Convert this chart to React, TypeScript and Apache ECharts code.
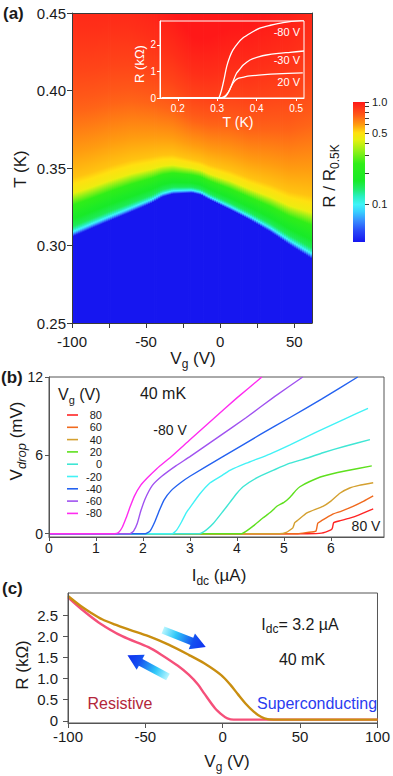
import React, { useEffect, useRef } from "react";
import * as echarts from "echarts";

const FONT = "'Liberation Sans', Arial, Helvetica, sans-serif";
const INK = "#1a1a1a";
const AXC = "#3a3a3a";

// ===== (a) phase diagram =====
const T_MIN = 0.25;
const T_MAX = 0.45;
const VG_MIN_A = -100;
const VG_MAX_A = 62;
const HM_VG = [-100, -86, -73, -60, -46, -39, -32, -19, -13, -7, 7, 20, 34, 47, 62];
// blue edge (lower end of the transition)
const HM_TC = [0.3055, 0.3113, 0.3165, 0.3216, 0.3274, 0.3313, 0.3332, 0.3339, 0.3326, 0.3294, 0.3229, 0.3165, 0.3087, 0.3003, 0.2913];
// yellow band (R/R0.5K ~ 0.45)
const HM_TY = [0.3326, 0.3371, 0.3416, 0.3455, 0.3487, 0.3506, 0.3513, 0.3494, 0.3481, 0.3455, 0.341, 0.3358, 0.3306, 0.3248, 0.3203];
// transition profile: position between blue edge (0) and yellow band (1) -> R/R0.5K
const PROFILE_U = [0, 0.04, 0.1, 0.16, 0.25, 0.5, 0.75, 0.9, 1.05, 1.4, 2.0, 3.0, 4.0, 5.0, 6.5];
const PROFILE_R = [0.043, 0.06, 0.09, 0.12, 0.15, 0.18, 0.25, 0.33, 0.45, 0.54, 0.6, 0.72, 0.82, 0.9, 1.0];
// colour scale
const CB_R = [0.043, 0.055, 0.07, 0.085, 0.1, 0.12, 0.14, 0.17, 0.25, 0.33, 0.43, 0.5, 0.6, 0.75, 1.0];
const CB_COLOR = ["#1616f0", "#2848f8", "#3890ff", "#38d0ff", "#40f4f8", "#28f0c0", "#20ec70", "#18ea28", "#30ee18", "#90f018", "#e8f010", "#ffe010", "#ff9c10", "#ff5818", "#ff1818"];
const CB_TICKS = [0.1, 0.2, 0.3, 0.4, 0.5, 0.6, 0.7, 0.8, 0.9, 1.0];
const CB_LABELS = [0.1, 0.5, 1.0];
const T_TICKS = [0.25, 0.3, 0.35, 0.4, 0.45];
const VG_TICKS_A = [-100, -75, -50, -25, 0, 25, 50];
const VG_LABELS_A = [-100, -50, 0, 50];

// inset R(T) curves
const RT_M80: [number, number][] = [[0.16, 0], [0.3, 0], [0.305, 0.03], [0.311, 0.3], [0.317, 0.68], [0.324, 1.18], [0.332, 1.55], [0.34, 1.81], [0.352, 2.06], [0.365, 2.26], [0.385, 2.45], [0.408, 2.63], [0.435, 2.74], [0.467, 2.84], [0.52, 2.93]];
const RT_M30: [number, number][] = [[0.16, 0], [0.307, 0], [0.318, 0.05], [0.325, 0.15], [0.332, 0.32], [0.34, 0.62], [0.349, 0.93], [0.358, 1.1], [0.366, 1.24], [0.383, 1.43], [0.405, 1.55], [0.425, 1.62], [0.455, 1.68], [0.485, 1.72], [0.52, 1.77]];
const RT_P20: [number, number][] = [[0.16, 0], [0.31, 0], [0.32, 0.04], [0.327, 0.18], [0.333, 0.36], [0.34, 0.56], [0.346, 0.67], [0.353, 0.74], [0.368, 0.79], [0.383, 0.83], [0.42, 0.88], [0.451, 0.91], [0.517, 0.95]];
const INSET_T_TICKS = [0.2, 0.3, 0.4, 0.5];
const INSET_R_TICKS = [0, 1, 2];

// ===== (b) V_drop vs I_dc =====
const IV_P80: [number, number][] = [[0, 0], [5.5, 0], [5.8, 0.05], [6.0, 0.3], [6.03, 0.42], [6.06, 0.85], [6.2, 1.0], [6.4, 1.2], [6.6, 1.45], [6.9, 1.9]];
const IV_P60: [number, number][] = [[0, 0], [5.3, 0], [5.5, 0.1], [5.68, 0.2], [5.72, 0.8], [5.8, 1.0], [6.04, 1.5], [6.2, 1.7], [6.47, 2.1], [6.7, 2.5], [6.9, 2.9]];
const IV_P40: [number, number][] = [[0, 0], [4.9, 0], [5.05, 0.1], [5.19, 0.45], [5.23, 0.85], [5.3, 1.05], [5.49, 1.6], [5.83, 2.1], [6.0, 2.5], [6.19, 3.1], [6.4, 3.5], [6.6, 3.7], [6.9, 3.9]];
const IV_P20: [number, number][] = [[0, 0], [4.1, 0], [4.2, 0.2], [4.35, 0.6], [4.55, 1.2], [4.7, 1.6], [4.85, 2.1], [5.0, 2.4], [5.13, 2.8], [5.25, 3.3], [5.34, 3.6], [5.55, 4.0], [5.83, 4.4], [6.3, 4.8], [6.87, 5.2]];
const IV_0: [number, number][] = [[0, 0], [3.2, 0], [3.35, 0.3], [3.5, 0.8], [3.7, 1.7], [3.85, 2.4], [4.0, 3.1], [4.13, 3.6], [4.43, 4.3], [4.8, 4.9], [5.13, 5.4], [5.5, 5.8], [5.83, 6.2], [6.3, 6.7], [6.83, 7.2]];
const IV_M20: [number, number][] = [[0, 0], [2.62, 0], [2.72, 0.3], [2.82, 0.9], [2.92, 1.6], [3.0, 2.0], [3.2, 3.0], [3.43, 3.9], [3.7, 4.5], [3.85, 4.85], [4.2, 5.4], [4.7, 6.1], [5.13, 6.8], [5.7, 7.8], [6.3, 8.8], [6.79, 9.6]];
const IV_M40: [number, number][] = [[0, 0], [2.05, 0], [2.15, 0.2], [2.25, 0.9], [2.35, 1.8], [2.45, 2.6], [2.6, 3.3], [2.8, 3.9], [3.0, 4.4], [3.7, 5.9], [4.5, 7.6], [5.13, 8.9], [5.8, 10.3], [6.57, 12.0]];
const IV_M60: [number, number][] = [[0, 0], [1.72, 0], [1.8, 0.2], [1.88, 0.8], [1.95, 1.7], [2.05, 2.7], [2.2, 3.7], [2.4, 4.4], [2.7, 5.2], [3.0, 5.9], [3.6, 7.4], [4.2, 8.9], [4.8, 10.5], [5.4, 12.0]];
const IV_M80: [number, number][] = [[0, 0], [1.4, 0], [1.48, 0.1], [1.56, 0.5], [1.64, 1.2], [1.72, 2.0], [1.82, 2.9], [1.95, 3.7], [2.1, 4.3], [2.3, 5.0], [2.6, 5.9], [3.0, 7.2], [3.5, 8.8], [4.0, 10.4], [4.53, 12.0]];
const B_LABELS = ["80", "60", "40", "20", "0", "-20", "-40", "-60", "-80"];
const B_COLORS = ["#ff2424", "#f06a1e", "#d4a030", "#5ee01e", "#3fe6d4", "#42f2f6", "#2462f0", "#a052f0", "#ff2cf0"];
const B_DATA = [IV_P80, IV_P60, IV_P40, IV_P20, IV_0, IV_M20, IV_M40, IV_M60, IV_M80];
const B_Y_TICKS = [0, 6, 12];
const B_X_TICKS = [0, 1, 2, 3, 4, 5, 6];

// ===== (c) R vs Vg sweeps =====
const RV_GOLD: [number, number][] = [[-100, 2.95], [-92, 2.72], [-85, 2.55], [-78, 2.4], [-70, 2.28], [-60, 2.15], [-48, 2.0], [-35, 1.8], [-22, 1.56], [-12, 1.36], [-1, 1.08], [5, 0.85], [10, 0.62], [15, 0.4], [20, 0.22], [25, 0.09], [29, 0.04], [35, 0.03], [100, 0.03]];
const RV_PINK: [number, number][] = [[-100, 2.92], [-90, 2.6], [-80, 2.32], [-65, 2.0], [-48, 1.74], [-40, 1.57], [-29, 1.3], [-22, 1.09], [-16, 0.86], [-12, 0.65], [-5, 0.3], [0, 0.13], [3, 0.06], [7, 0.03], [100, 0.03]];
const C_Y_TICKS = [0, 0.5, 1.0, 1.5, 2.0, 2.5];
const C_X_TICKS = [-100, -50, 0, 50, 100];

// ---------- helpers ----------
function lerpArr(xs: number[], ys: number[], x: number) {
  const n = xs.length;
  if (x <= xs[0]) return ys[0];
  if (x >= xs[n - 1]) return ys[n - 1];
  for (let i = 0; i < n - 1; i++) {
    if (x <= xs[i + 1]) {
      const t = (x - xs[i]) / (xs[i + 1] - xs[i]);
      return ys[i] + (ys[i + 1] - ys[i]) * t;
    }
  }
  return ys[n - 1];
}
function hex2rgb(h: string) {
  const n = parseInt(h.slice(1), 16);
  return [(n >> 16) & 255, (n >> 8) & 255, n & 255];
}
const CB_LOG = CB_R.map((r) => Math.log10(r));
const CB_MIN = CB_LOG[0];
const CB_MAX = CB_LOG[CB_LOG.length - 1];
function cmap(L: number) {
  if (L <= CB_LOG[0]) return CB_COLOR[0];
  const n = CB_LOG.length;
  if (L >= CB_LOG[n - 1]) return CB_COLOR[n - 1];
  for (let i = 0; i < n - 1; i++) {
    if (L <= CB_LOG[i + 1]) {
      const t = (L - CB_LOG[i]) / (CB_LOG[i + 1] - CB_LOG[i]);
      const a = hex2rgb(CB_COLOR[i]);
      const b = hex2rgb(CB_COLOR[i + 1]);
      return `rgb(${Math.round(a[0] + (b[0] - a[0]) * t)},${Math.round(a[1] + (b[1] - a[1]) * t)},${Math.round(a[2] + (b[2] - a[2]) * t)})`;
    }
  }
  return CB_COLOR[n - 1];
}
const PROFILE_L = PROFILE_R.map((r) => Math.log10(r));
const profileL = (u: number) => lerpArr(PROFILE_U, PROFILE_L, u);
const profileInv = (L: number) => lerpArr(PROFILE_L, PROFILE_U, L);

function columnStops(tc: number, ty: number) {
  const W = ty - tc;
  const span = T_MAX - T_MIN;
  const us = PROFILE_U.slice();
  CB_LOG.forEach((L) => {
    if (L > PROFILE_L[0] && L < PROFILE_L[PROFILE_L.length - 1]) us.push(profileInv(L));
  });
  us.sort((a, b) => a - b);
  const uTop = (T_MAX - tc) / W;
  const stops: { offset: number; color: string }[] = [{ offset: 0, color: cmap(profileL(uTop)) }];
  for (const u of us) {
    if (u >= uTop) continue;
    const T = tc + u * W;
    if (T < T_MIN) continue;
    stops.push({ offset: (T_MAX - T) / span, color: cmap(profileL(u)) });
  }
  stops.push({ offset: 1, color: CB_COLOR[0] });
  stops.sort((a, b) => a.offset - b.offset);
  return stops;
}

function axisBase(gridIndex: number, min: number, max: number, ticks: number[], labels: number[] | null, fmt: any, o: any = {}) {
  return {
    type: "value",
    gridIndex,
    min,
    max,
    z: 6,
    axisLine: { show: true, onZero: false, lineStyle: { color: o.lineColor || AXC, width: 1 } },
    axisTick: { show: ticks.length > 0, customValues: ticks, length: o.tickLen ?? 5, lineStyle: { color: o.lineColor || AXC } },
    axisLabel: {
      show: !!labels,
      customValues: labels || [],
      formatter: fmt,
      color: o.labelColor || INK,
      fontSize: o.fontSize || 14,
      fontFamily: FONT,
      margin: o.margin ?? 6,
    },
    splitLine: { show: false },
  };
}
function hiddenAxis(gridIndex: number, min: number, max: number, position: string, color = AXC) {
  return {
    type: "value",
    gridIndex,
    min,
    max,
    position,
    z: 6,
    axisLine: { show: true, onZero: false, lineStyle: { color, width: 1 } },
    axisTick: { show: false },
    axisLabel: { show: false },
    splitLine: { show: false },
  };
}

function text(x: number, y: number, t: string, o: any = {}) {
  const style: any = {
    text: t,
    fill: o.fill || INK,
    fontSize: o.fontSize || 16,
    fontFamily: FONT,
    fontWeight: o.fontWeight || "normal",
    align: o.align || "center",
    verticalAlign: "middle",
  };
  if (o.rich) style.rich = o.rich;
  if (o.lineHeight) style.lineHeight = o.lineHeight;
  return { type: "text", x, y, rotation: o.rotation || 0, z: 20, style };
}
function subRich(base: number, sub: number, fill = INK, italicSub = false) {
  return {
    n: { fontSize: base, lineHeight: base + 6, fontFamily: FONT, fill, color: fill },
    s: { fontSize: sub, lineHeight: sub + 1, verticalAlign: "bottom", fontFamily: FONT, fill, color: fill, fontStyle: italicSub ? "italic" : "normal" },
  };
}
function arrow(x: number, y: number, rotation: number) {
  const L = 46;
  const pts = [[0, -3.8], [L - 15, -3.8], [L - 15, -8.5], [L, 0], [L - 15, 8.5], [L - 15, 3.8], [0, 3.8]];
  return {
    type: "polygon",
    x,
    y,
    rotation,
    z: 20,
    shape: { points: pts },
    style: {
      fill: new echarts.graphic.LinearGradient(0, 0, 1, 0, [
        { offset: 0, color: "#b8f6ff" },
        { offset: 0.3, color: "#30c8f8" },
        { offset: 0.7, color: "#1450f0" },
        { offset: 1, color: "#1030f0" },
      ]),
    },
  };
}

function buildOption() {
  const grids = [
    { left: 72, top: 13, width: 240, height: 310 },
    { left: 160, top: 21, width: 144, height: 77, show: true, borderColor: "#ffffff", borderWidth: 1, z: 5, backgroundColor: "transparent" },
    { left: 353, top: 102, width: 12, height: 140 },
    { left: 49, top: 377, width: 335, height: 160, show: true, borderColor: "#555", borderWidth: 1, backgroundColor: "transparent" },
    { left: 68, top: 593, width: 315, height: 130, show: true, borderColor: "#555", borderWidth: 1, backgroundColor: "transparent" },
  ];

  const xAxis = [
    axisBase(0, VG_MIN_A, VG_MAX_A, VG_TICKS_A, VG_LABELS_A, (v: number) => String(v), { fontSize: 15, margin: 11 }),
    hiddenAxis(0, VG_MIN_A, VG_MAX_A, "top"),
    axisBase(1, 0.155, 0.52, INSET_T_TICKS, INSET_T_TICKS, (v: number) => v.toFixed(1), { lineColor: "#fff", labelColor: "#fff", fontSize: 10, margin: 5, tickLen: 3 }),
    { type: "value", gridIndex: 2, min: 0, max: 1, show: false },
    axisBase(3, 0, 7.13, B_X_TICKS, B_X_TICKS, (v: number) => String(v), { fontSize: 14, margin: 4, tickLen: 4, lineColor: "#555" }),
    axisBase(4, -100, 100, C_X_TICKS, C_X_TICKS, (v: number) => String(v), { fontSize: 15, margin: 6, tickLen: 5, lineColor: "#555" }),
  ];
  const yAxis = [
    axisBase(0, T_MIN, T_MAX, T_TICKS, T_TICKS, (v: number) => v.toFixed(2), { fontSize: 15, margin: 6 }),
    hiddenAxis(0, T_MIN, T_MAX, "right"),
    axisBase(1, 0, 2.9, INSET_R_TICKS, INSET_R_TICKS, (v: number) => String(v), { lineColor: "#fff", labelColor: "#fff", fontSize: 10, margin: 4, tickLen: 3 }),
    {
      type: "value",
      gridIndex: 2,
      min: CB_MIN,
      max: CB_MAX,
      position: "right",
      z: 6,
      axisLine: { show: false, onZero: false },
      axisTick: { show: true, customValues: CB_TICKS.map((v) => Math.log10(v)), length: 4, lineStyle: { color: AXC } },
      axisLabel: {
        show: true,
        customValues: CB_LABELS.map((v) => Math.log10(v)),
        formatter: (v: number) => Math.pow(10, v).toFixed(1),
        color: INK,
        fontSize: 11,
        fontFamily: FONT,
        margin: 7,
      },
      splitLine: { show: false },
    },
    axisBase(3, -0.25, 12, B_Y_TICKS, B_Y_TICKS, (v: number) => String(v), { fontSize: 14, margin: 6, tickLen: 4, lineColor: "#555" }),
    axisBase(4, -0.05, 3.02, C_Y_TICKS, C_Y_TICKS, (v: number) => (v === 0 ? "0" : v.toFixed(1)), { fontSize: 15, margin: 10, tickLen: 5, lineColor: "#555" }),
  ];

  const heatData = HM_VG.slice(0, -1).map((v, i) => [v, HM_VG[i + 1], i]);

  const series: any[] = [
    {
      type: "custom",
      xAxisIndex: 0,
      yAxisIndex: 0,
      z: 1,
      clip: true,
      silent: true,
      data: heatData,
      renderItem: (params: any, api: any) => {
        const i = api.value(2) as number;
        const v0 = HM_VG[i];
        const v1 = HM_VG[i + 1];
        const pA = api.coord([v0, T_MAX]);
        const pB = api.coord([v1, T_MIN]);
        const wpx = pB[0] - pA[0];
        const n = Math.max(1, Math.round(wpx / 2));
        const children: any[] = [];
        for (let s = 0; s < n; s++) {
          const t = (s + 0.5) / n;
          const tc = HM_TC[i] + (HM_TC[i + 1] - HM_TC[i]) * t;
          const ty = HM_TY[i] + (HM_TY[i + 1] - HM_TY[i]) * t;
          children.push({
            type: "rect",
            shape: { x: pA[0] + (wpx * s) / n, y: pA[1], width: wpx / n + 0.8, height: pB[1] - pA[1] },
            style: { fill: new echarts.graphic.LinearGradient(0, 0, 0, 1, columnStops(tc, ty)) },
          });
        }
        return { type: "group", children };
      },
    },
    {
      type: "custom",
      xAxisIndex: 3,
      yAxisIndex: 3,
      silent: true,
      data: [[0, 0]],
      renderItem: (params: any, api: any) => {
        const p0 = api.coord([0, CB_MAX]);
        const p1 = api.coord([1, CB_MIN]);
        const stops = CB_LOG.map((L, k) => ({ offset: (CB_MAX - L) / (CB_MAX - CB_MIN), color: CB_COLOR[k] })).sort((a, b) => a.offset - b.offset);
        return {
          type: "rect",
          shape: { x: p0[0], y: p0[1], width: p1[0] - p0[0], height: p1[1] - p0[1] },
          style: { fill: new echarts.graphic.LinearGradient(0, 0, 0, 1, stops) },
        };
      },
    },
  ];
  [RT_M80, RT_M30, RT_P20].forEach((d) => {
    series.push({
      type: "line",
      xAxisIndex: 2,
      yAxisIndex: 2,
      data: d,
      showSymbol: false,
      symbol: "none",
      smooth: 0.3,
      z: 4,
      lineStyle: { color: "#ffffff", width: 1.3 },
    });
  });
  B_DATA.forEach((d, k) => {
    series.push({
      type: "line",
      name: B_LABELS[k],
      xAxisIndex: 4,
      yAxisIndex: 4,
      data: d,
      symbol: "none",
      smooth: 0.15,
      clip: true,
      lineStyle: { color: B_COLORS[k], width: 1.4 },
    });
  });
  series.push({
    type: "line",
    xAxisIndex: 5,
    yAxisIndex: 5,
    data: RV_PINK,
    symbol: "none",
    smooth: 0.3,
    lineStyle: { color: "#f5507a", width: 2.4 },
  });
  series.push({
    type: "line",
    xAxisIndex: 5,
    yAxisIndex: 5,
    data: RV_GOLD,
    symbol: "none",
    smooth: 0.3,
    lineStyle: { color: "#c98e10", width: 2.4 },
  });

  const g: any[] = [];
  // panel labels
  g.push(text(3, 13, "(a)", { align: "left", fontWeight: "bold", fontSize: 17 }));
  g.push(text(1, 377, "(b)", { align: "left", fontWeight: "bold", fontSize: 17 }));
  g.push(text(2, 588, "(c)", { align: "left", fontWeight: "bold", fontSize: 17 }));
  // (a) titles
  g.push(text(20, 169, "T (K)", { rotation: Math.PI / 2, fontSize: 17 }));
  g.push(text(193, 358, "{n|V}{s|g}{n| (V)}", { rich: subRich(17, 12) }));
  g.push(text(329, 176, "{n|R / R}{s|0.5K}", { rotation: Math.PI / 2, rich: subRich(17, 12) }));
  // inset titles
  g.push(text(139, 64, "R (kΩ)", { rotation: Math.PI / 2, fontSize: 13, fill: "#fff" }));
  g.push(text(238, 122, "T (K)", { fontSize: 14, fill: "#fff" }));
  g.push(text(300, 32, "-80 V", { align: "right", fontSize: 11, fill: "#fff" }));
  g.push(text(300, 60, "-30 V", { align: "right", fontSize: 11, fill: "#fff" }));
  g.push(text(300, 82, "20 V", { align: "right", fontSize: 11, fill: "#fff" }));
  // (b)
  g.push(text(16, 441, "{n|V}{s|drop}{n| (mV)}", { rotation: Math.PI / 2, rich: subRich(17, 13, INK, true) }));
  g.push(text(219, 575, "{n|I}{s|dc}{n| (µA)}", { rich: subRich(17, 12) }));
  g.push(text(58, 394, "{n|V}{s|g}{n| (V)}", { align: "left", rich: subRich(16, 11) }));
  B_LABELS.forEach((lab, k) => {
    const y = 415 + k * 12.3;
    g.push({ type: "line", z: 20, shape: { x1: 67, y1: y, x2: 78, y2: y }, style: { stroke: B_COLORS[k], lineWidth: 1.6 } });
    g.push(text(102, y, lab, { align: "right", fontSize: 11, lineHeight: 10 }));
  });
  g.push(text(163, 393, "40 mK", { fontSize: 16 }));
  g.push(text(170, 430, "-80 V", { fontSize: 14 }));
  g.push(text(366, 526, "80 V", { fontSize: 14 }));
  // (c)
  g.push(text(22, 665, "R (kΩ)", { rotation: Math.PI / 2, fontSize: 17 }));
  g.push(text(227, 761, "{n|V}{s|g}{n| (V)}", { rich: subRich(17, 12) }));
  g.push(text(300, 624, "{n|I}{s|dc}{n|= 3.2 µA}", { rich: subRich(16, 12) }));
  g.push(text(302, 659, "40 mK", { fontSize: 16 }));
  g.push(text(120, 703, "Resistive", { fontSize: 16, fill: "#b3263a" }));
  g.push(text(317, 703, "Superconducting", { fontSize: 16, fill: "#2a3cf0" }));
  g.push(arrow(163, 630, -Math.atan2(17, 43)));
  g.push(arrow(168, 677, -Math.atan2(-22, -41)));

  return {
    animation: false,
    backgroundColor: "#ffffff",
    grid: grids,
    xAxis,
    yAxis,
    series,
    graphic: { elements: g },
  };
}

export default function App() {
  const ref = useRef<HTMLDivElement>(null);
  useEffect(() => {
    if (!ref.current) return;
    const chart = echarts.init(ref.current, null, { renderer: "svg" });
    chart.setOption(buildOption() as any);
    return () => chart.dispose();
  }, []);
  return (
    <div style={{ position: "fixed", left: 0, top: 0, width: 393, height: 776, background: "#fff" }}>
      <div ref={ref} style={{ width: 393, height: 776 }} />
    </div>
  );
}
